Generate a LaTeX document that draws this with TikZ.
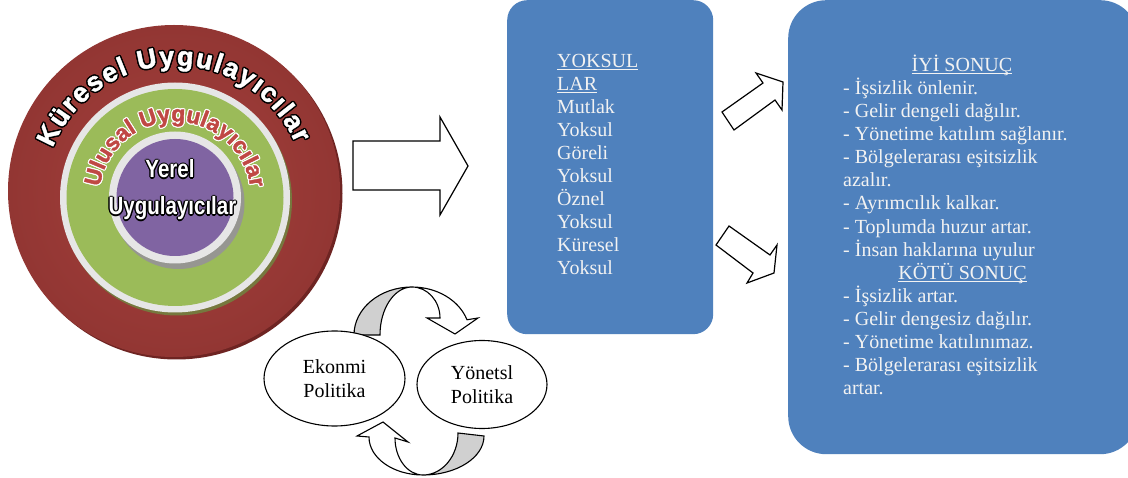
\documentclass[tikz,border=0pt]{standalone}
\usepackage{fontspec}
\setmainfont{Liberation Serif}
\newfontfamily\lsans{Liberation Sans}
\newfontfamily\lheavy[FakeBold=1.6]{Liberation Sans}
\newfontfamily\lnarrow[FakeStretch=0.82]{Liberation Sans}
\usetikzlibrary{shapes.geometric,decorations.text}
\definecolor{boxblue}{RGB}{79,129,189}
\definecolor{boxtext}{RGB}{242,242,242}
\definecolor{ringred}{RGB}{146,54,51}
\definecolor{ringredlight}{RGB}{166,64,60}
\definecolor{ringreddark}{RGB}{110,36,34}
\definecolor{ringgray}{RGB}{230,230,230}
\definecolor{ringgreen}{RGB}{155,187,89}
\definecolor{ringolive}{RGB}{118,120,62}
\definecolor{ringpurple}{RGB}{128,100,162}
\definecolor{ringside}{RGB}{150,150,145}
\definecolor{ulusred}{RGB}{192,72,68}
\definecolor{arrowgray}{RGB}{208,208,208}
\newcommand\uln[1]{\setbox0=\hbox{#1}\rlap{\rule[-2.6pt]{\wd0}{0.9pt}}\box0}
\def\outlineoffsets{1.5/0,-1.5/0,0/1.5,0/-1.5,1.05/1.05,1.05/-1.05,-1.05/1.05,-1.05/-1.05}
\begin{document}
\begin{tikzpicture}[x=1pt,y=1pt,
  blockarrow/.style={draw=black, line width=1.2pt, fill=white, line join=miter},
  curvegray/.style={draw=black, line width=1.1pt, fill=arrowgray},
  curvewhite/.style={draw=black, line width=1.1pt, fill=white},
  bubble/.style={ellipse, draw=black, line width=1.1pt, fill=white, inner sep=0pt, align=center,
    font=\fontsize{20}{24.5}\selectfont},
  bluebox/.style={fill=boxblue, inner sep=0pt, anchor=north west},
  boxtxt/.style={text=boxtext, inner sep=0pt, font=\fontsize{20}{23}\selectfont}
]
\useasboundingbox (0,0) rectangle (1128,-478);
\fill[white] (0,0) rectangle (1128,-478);
\clip (0,0) rectangle (1128,-478);

% ---------- concentric rings ----------
\fill[ringreddark] (176.5,-193.5) circle[radius=166];
\shade[inner color=ringredlight, outer color=ringred] (174,-191) circle[radius=166];
\fill[ringolive] (177,-200.5) circle[radius=115];
\fill[ringgray] (175,-197.5) circle[radius=115];
\fill[ringgreen] (175,-197.5) circle[radius=108.5];
\fill[ringside] (178.5,-203) circle[radius=66];
\fill[ringgray] (175,-197.5) circle[radius=66];
\fill[ringpurple] (175,-197.5) circle[radius=58.5];

% Küresel Uygulayicilar (white, black outline)
\foreach \dx/\dy in \outlineoffsets {
  \path[xshift=\dx, yshift=\dy, decorate, decoration={text along path, text align=fit to path,
    text={|\lheavy\bfseries\fontsize{27}{29}\selectfont\color{black}|Küresel Uygulayıcılar}}]
    ([shift={(175,-197.5)}]158:132) arc[start angle=158, end angle=24, radius=132];
}
\path[decorate, decoration={text along path, text align=fit to path,
    text={|\lheavy\bfseries\fontsize{27}{29}\selectfont\color{white}|Küresel Uygulayıcılar}}]
    ([shift={(175,-197.5)}]158:132) arc[start angle=158, end angle=24, radius=132];

% Ulusal Uygulayicilar (red, white outline)
\foreach \dx/\dy in \outlineoffsets {
  \path[xshift=0.8*\dx, yshift=0.8*\dy, decorate, decoration={text along path, text align=fit to path,
    text={|\lheavy\bfseries\fontsize{23}{25}\selectfont\color{white}|Ulusal Uygulayıcılar}}]
    ([shift={(175,-197.5)}]172:76) arc[start angle=172, end angle=8, radius=76];
}
\path[decorate, decoration={text along path, text align=fit to path,
    text={|\lheavy\bfseries\fontsize{23}{25}\selectfont\color{ulusred}|Ulusal Uygulayıcılar}}]
    ([shift={(175,-197.5)}]172:76) arc[start angle=172, end angle=8, radius=76];

% Yerel Uygulayicilar
\foreach \dx/\dy [count=\i] in \outlineoffsets {
  \node[anchor=base, inner sep=0pt, text=black, font=\lnarrow\bfseries\fontsize{25}{25}\selectfont]
    (yerelo\i) at ([xshift=0.9*\dx, yshift=0.9*\dy]170,-178) {Yerel};
  \node[anchor=base, inner sep=0pt, text=black, font=\lnarrow\bfseries\fontsize{25}{25}\selectfont]
    (uygo\i) at ([xshift=0.9*\dx, yshift=0.9*\dy]172.5,-215) {Uygulayıcılar};
}
\node[anchor=base, inner sep=0pt, text=white, font=\lnarrow\bfseries\fontsize{25}{25}\selectfont]
  (yerel) at (170,-178) {Yerel};
\node[anchor=base, inner sep=0pt, text=white, font=\lnarrow\bfseries\fontsize{25}{25}\selectfont]
  (uyg) at (172.5,-215) {Uygulayıcılar};

% ---------- big arrow ----------
\draw[blockarrow] (353,-141) -- (440,-141) -- (440,-117) -- (468,-166) -- (440,-215)
  -- (440,-190) -- (353,-190) -- cycle;

% ---------- blue boxes ----------
\node[bluebox, rounded corners=20, minimum width=206, minimum height=334] (yoksulbox) at (507,0) {};
\node[bluebox, rounded corners=38, minimum width=350, minimum height=454] (sonucbox) at (788,0) {};

\foreach \t [count=\i from 0] in {\uln{YOKSUL},\uln{LAR},Mutlak,Yoksul,Göreli,Yoksul,Öznel,Yoksul,Küresel,Yoksul}
  \node[boxtxt, anchor=base west] (yk\i) at (557,{-67.7-22.95*\i}) {\t};

\node[boxtxt, anchor=base] (iyi) at (962,-71.7) {\uln{İYİ SONUÇ}};
\node[boxtxt, anchor=base] (kotu) at (962.5,{-71.7-23.05*9}) {\uln{KÖTÜ SONUÇ}};
\foreach \i/\t in {1/- İşsizlik önlenir., 2/- Gelir dengeli dağılır., 3/- Yönetime katılım sağlanır.,
  4/- Bölgelerarası eşitsizlik, 5/azalır., 6/- Ayrımcılık kalkar., 7/- Toplumda huzur artar.,
  8/- İnsan haklarına uyulur, 10/- İşsizlik artar., 11/- Gelir dengesiz dağılır.,
  12/- Yönetime katılınımaz., 13/- Bölgelerarası eşitsizlik, 14/artar.}
  \node[boxtxt, anchor=base west] (sl\i) at (843,{-71.7-23.05*\i}) {\t};

% ---------- small arrows between boxes ----------
\draw[blockarrow] (722,-112) -- (763,-83) -- (756,-73) -- (783,-82) -- (782,-110) -- (775,-100)
  -- (734,-130) -- cycle;
\draw[blockarrow] (716,-245) -- (729,-226) -- (770,-255) -- (777,-245) -- (774,-273) -- (747,-283)
  -- (753,-273) -- cycle;

% ---------- cycle arrows ----------
\draw[curvegray] (354,-335) arc[start angle=180, end angle=90, x radius=58, y radius=48]
  arc[start angle=90, end angle=180, x radius=32, y radius=48] -- cycle;
\draw[curvewhite] (412,-287) arc[start angle=90, end angle=18.5, x radius=58, y radius=48]
  -- (478,-318) -- (455,-334) -- (427,-318) -- (440,-318)
  arc[start angle=0, end angle=90, x radius=28, y radius=31] -- cycle;

\draw[curvegray] (484,-436) arc[start angle=0, end angle=-90, x radius=61, y radius=39]
  arc[start angle=270, end angle=360, x radius=35, y radius=42] -- cycle;
\draw[curvewhite] (423,-475) arc[start angle=270, end angle=180, x radius=54, y radius=38]
  -- (357,-436) -- (383,-422) -- (408,-442) -- (395,-438)
  arc[start angle=180, end angle=270, x radius=28, y radius=37] -- cycle;

% ---------- ellipses ----------
\node[bubble, minimum width=141, minimum height=95] (eko) at (334.5,-378.5) {Ekonmi\\Politika};
\node[bubble, minimum width=130, minimum height=88] (yon) at (482,-384.5) {Yönetsl\\Politika};
\end{tikzpicture}
\end{document}
